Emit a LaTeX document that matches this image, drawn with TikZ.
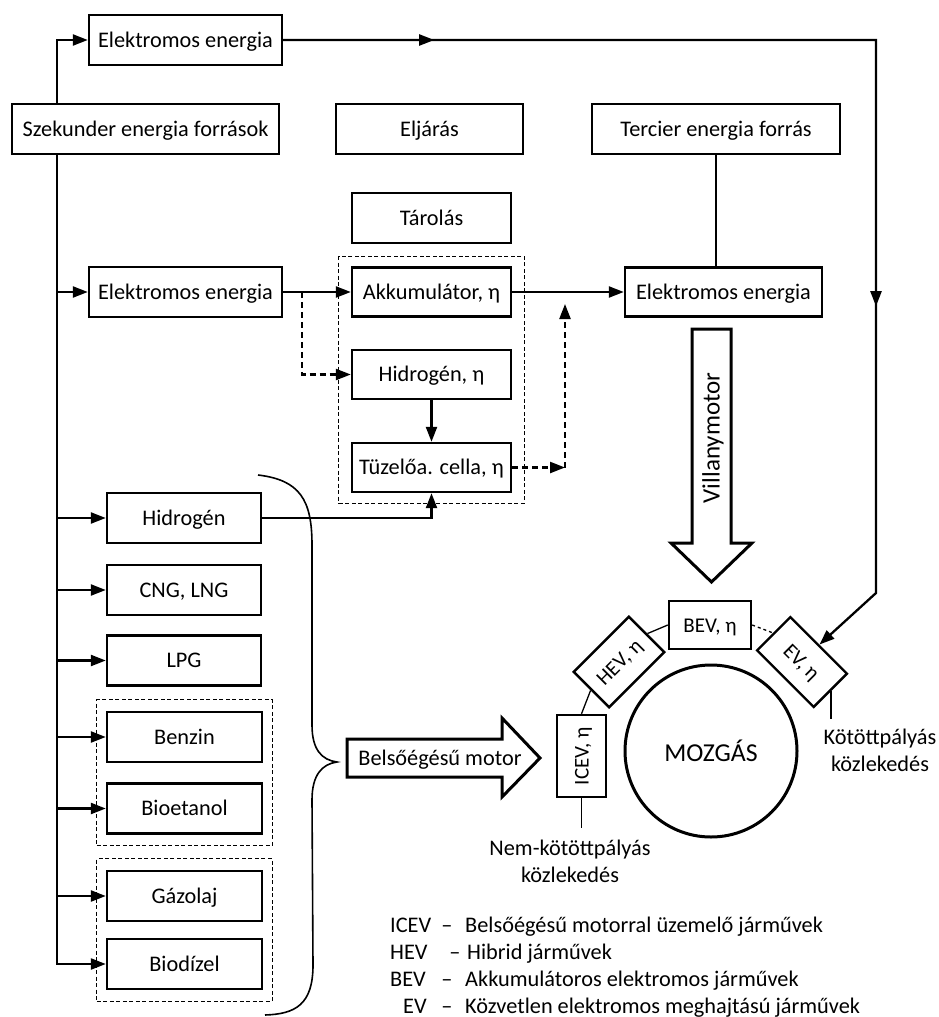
\documentclass[tikz,border=0pt]{standalone}
\usepackage{fontspec}
\setmainfont{Carlito}
\usetikzlibrary{arrows.meta,decorations.markings,fit}

\begin{document}
\begin{tikzpicture}[x=1pt, y=-1pt,
    font=\fontsize{22.3}{27}\selectfont,
    box/.style={draw, line width=2.4pt, minimum height=50pt, inner xsep=4pt, text height=17pt, text depth=2.6pt},
    grp/.style={draw, line width=1.3pt, dash pattern=on 4pt off 2.5pt},
    arr/.style={line width=2.3pt, -{Triangle[length=15pt,width=11pt]}},
    darr/.style={arr, dash pattern=on 6pt off 4pt},
    thinline/.style={line width=1.3pt},
    fatarrow/.style={draw, line width=3pt, line join=miter},
    vehicle/.style={box, font=\fontsize{21}{25}\selectfont}
]
\useasboundingbox (0,0) rectangle (939,1017);

% top row
\node[box, minimum width=193pt] (elTop) at (185.5,40) {Elektromos energia};
\node[box, minimum width=267pt] (szek) at (145.5,129) {Szekunder energia források};
\node[box, minimum width=187pt] (eljaras) at (429.5,129) {Eljárás};
\node[box, minimum width=248pt] (tercier) at (716,129) {Tercier energia forrás};

% storage
\node[box, minimum width=159pt] (tarolas) at (431.5,218) {Tárolás};
\node[box, minimum width=159pt, minimum height=49pt] (akku) at (431.5,292) {Akkumulátor, η};
\node[box, minimum width=159pt, minimum height=49pt] (hydEta) at (431.5,374.5) {Hidrogén, η};
\node[box, minimum width=159pt, minimum height=49pt] (tuz) at (431.5,467.5) {Tüzelőa. cella, η};
\node[grp, fit=(akku)(tuz), inner xsep=12pt, inner ysep=10pt] (tarolo) {};

\node[box, minimum width=193pt] (elMid) at (185.5,292) {Elektromos energia};
\node[box, minimum width=197pt, minimum height=49pt] (elRight) at (723.5,292) {Elektromos energia};

% fuels
\node[box, minimum width=154pt] (hyd) at (184,518) {Hidrogén};
\node[box, minimum width=154pt] (cng) at (184,590) {CNG, LNG};
\node[box, minimum width=154pt] (lpg) at (184,660.5) {LPG};
\node[box, minimum width=155pt] (benzin) at (184.5,737) {Benzin};
\node[box, minimum width=155pt] (bioet) at (184.5,808.5) {Bioetanol};
\node[box, minimum width=155pt] (gazolaj) at (184.5,896) {Gázolaj};
\node[box, minimum width=155pt] (biodiz) at (184.5,964) {Biodízel};
\node[grp, fit=(benzin)(bioet), inner xsep=9pt, inner ysep=11pt] (benzinGrp) {};
\node[grp, fit=(gazolaj)(biodiz), inner xsep=9pt, inner ysep=11pt] (dieselGrp) {};

% vehicles
\node[circle, draw, line width=3pt, minimum size=172pt, font=\fontsize{25.8}{30}\selectfont] (mozgas) at (711,751) {MOZGÁS};
\node[vehicle, minimum width=82pt, minimum height=48pt] (bev) at (710,625) {BEV, η};
\node[vehicle, rotate=45, minimum width=78pt, minimum height=50pt] (hev) at (619,662) {HEV, η};
\node[vehicle, rotate=-45, minimum width=80pt, minimum height=47pt] (ev) at (802,662) {EV, η};
\node[vehicle, rotate=90, minimum width=82pt, minimum height=49pt] (icev) at (581.5,756) {ICEV, η};

\node[align=center] (nemkot) at (570,861) {Nem-kötöttpályás\\közlekedés};
\node[align=center] (kotott) at (880,750) {Kötöttpályás\\közlekedés};

% fat arrows
\draw[fatarrow] (347,739) -- (502,739) -- (502,718) -- (540,758) -- (502,797) -- (502,777) -- (347,777) -- cycle;
\node[text height=17pt, text depth=2.6pt] (belso) at (440,758) {Belsőégésű motor};
\draw[fatarrow] (692,329) -- (731,329) -- (731,543) -- (752,543) -- (711.5,582) -- (671,543) -- (692,543) -- cycle;
\node[rotate=90, font=\fontsize{25}{30}\selectfont, text height=19pt, text depth=3pt] (villany) at (711.5,438) {Villanymotor};

% connectors
\coordinate (tr) at (57,154);
\draw[arr] (tr |- szek.north) |- (elTop.west);
\draw[arr] (tr |- szek.south) |- (biodiz.west);
\foreach \n in {elMid,hyd,cng,lpg,benzin,bioet,gazolaj}
  \draw[arr] (tr |- \n.west) -- (\n.west);

\coordinate (ev1) at (876,40);
\coordinate (ev2) at (876,593);
\draw[arr, postaction={decorate, decoration={markings,
    mark=at position 151pt with {\arrow{Triangle[length=15pt,width=11pt]}},
    mark=at position 859pt with {\arrow{Triangle[length=15pt,width=11pt]}}}}]
  (elTop.east) -- (ev1) -- (ev2) -- (ev.north);

\draw[arr] (elMid.east) -- (akku.west);
\coordinate (split) at (302,292);
\draw[darr] (split) |- (hydEta.west);
\draw[arr] (hydEta.south) -- (tuz.north);
\draw[arr] (hyd.east) -| (tuz.south);
\coordinate (join) at (565,304);
\draw[darr] (tuz.east) -- (join |- tuz.east);
\draw[darr] (join |- tuz.east) -- (join);
\draw[arr] (akku.east) -- (elRight.west);
\draw[thinline] (tercier.south) -- (tercier.south |- elRight.north);

\draw[thinline] (icev.west) -- ++(0,30);
\draw[thinline] (ev.east) -- ++(0,28);
\draw[thinline] (icev.east) -- (hev.west);
\draw[thinline] (hev.east) -- (bev.west);
\draw[thinline, dashed] (bev.east) -- (ev.west);

% brace
\draw[line width=1.6pt] (258,475) .. controls (300,480) and (312,500) .. (312,545) -- (312,725)
  .. controls (312,750) and (322,760) .. (337,762) .. controls (322,764) and (312,775) .. (312,800)
  -- (313,965) .. controls (313,1005) and (295,1014) .. (265,1015);

% legend
\foreach \ab/\ax/\dx/\tx/\txt [count=\i] in {ICEV/390/447/465/Belsőégésű motorral üzemelő járművek,
    HEV/390/455/467/Hibrid járművek,
    BEV/390/447/465/Akkumulátoros elektromos járművek,
    EV/403/447/465/Közvetlen elektromos meghajtású járművek} {
  \node[anchor=base west, inner sep=0pt] (abbr\i) at (\ax,905+27*\i) {\ab};
  \node[anchor=base, inner sep=0pt] (dash\i) at (\dx,905+27*\i) {–};
  \node[anchor=base west, inner sep=0pt] (desc\i) at (\tx,905+27*\i) {\txt};
}
\end{tikzpicture}
\end{document}
